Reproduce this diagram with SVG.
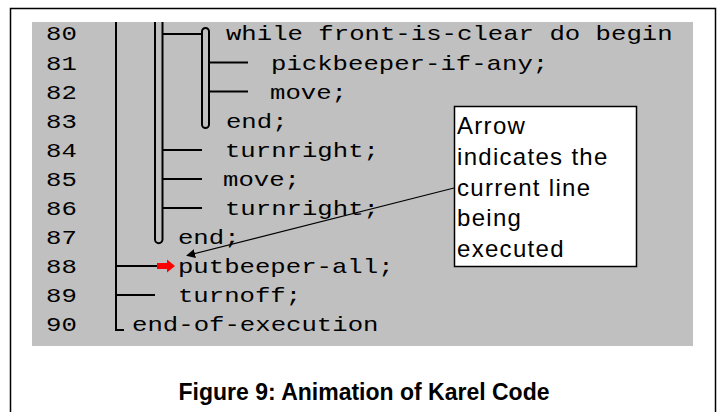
<svg xmlns="http://www.w3.org/2000/svg" width="719" height="412" viewBox="0 0 719 412">
  <style>
    .code { font-family: "Liberation Mono", "Courier New", monospace; font-size: 20.8px; fill: #000; }
    .tree { fill: none; stroke: #000; stroke-width: 2; }
    .note { font-family: "Liberation Sans", Arial, sans-serif; font-size: 24px; letter-spacing: 1.3px; fill: #000; }
    .caption { font-family: "Liberation Sans", Arial, sans-serif; font-size: 23px; font-weight: bold; fill: #000; }
  </style>
  <defs>
    <marker id="head" viewBox="0 0 10 10" refX="9" refY="5" markerWidth="9" markerHeight="9" markerUnits="userSpaceOnUse" orient="auto">
      <path d="M0,0 L10,5 L0,10 Z" fill="#000"/>
    </marker>
    <clipPath id="panelClip">
      <rect x="32" y="22" width="661" height="324"/>
    </clipPath>
  </defs>

  <rect x="0" y="0" width="719" height="412" fill="#fff"/>
  <!-- figure frame -->
  <rect x="10.5" y="8.5" width="705" height="420" fill="none" stroke="#000" stroke-width="1.5"/>

  <!-- code listing panel -->
  <g id="code-panel">
    <rect x="32" y="22" width="661" height="324" fill="#c0c0c0"/>
    <g clip-path="url(#panelClip)">
      <!-- structure lines -->
      <g id="tree">
        <path class="tree" d="M116,22 V330 H124"/>
        <path class="tree" d="M155,10 V239.5 A3.75,3.75 0 0 0 162.5,239.5 V10"/>
        <rect class="tree" x="202" y="28" width="7" height="100" rx="3.5"/>
        <path class="tree" d="M163,34 H202 M209,62.5 H248 M209,91.5 H248 M163,150 H202 M163,179 H202 M163,208 H202 M116,266 H157 M116,295 H155"/>
      </g>
      <!-- listing text, widened to the 15.4px character cell -->
      <g id="lines" class="code" transform="scale(1.234 1)">
        <text x="37.3" y="40.5">80</text>
        <text x="183.1" y="40.5">while front-is-clear do begin</text>
        <text x="37.3" y="69.6">81</text>
        <text x="219.6" y="69.6">pickbeeper-if-any;</text>
        <text x="37.3" y="98.7">82</text>
        <text x="218.8" y="98.7">move;</text>
        <text x="37.3" y="127.8">83</text>
        <text x="183.1" y="127.8">end;</text>
        <text x="37.3" y="156.9">84</text>
        <text x="182.3" y="156.9">turnright;</text>
        <text x="37.3" y="186">85</text>
        <text x="180.7" y="186">move;</text>
        <text x="37.3" y="215.1">86</text>
        <text x="182.3" y="215.1">turnright;</text>
        <text x="37.3" y="244.2">87</text>
        <text x="144.2" y="244.2">end;</text>
        <text x="37.3" y="273.3">88</text>
        <text x="144.2" y="273.3">putbeeper-all;</text>
        <text x="37.3" y="302.4">89</text>
        <text x="144.2" y="302.4">turnoff;</text>
        <text x="37.3" y="331.5">90</text>
        <text x="107" y="331.5">end-of-execution</text>
      </g>
    </g>
  </g>

  <!-- current-line marker -->
  <g id="current-line">
    <path d="M157,263 H167 V259.5 L175,266 L167,272.5 V269 H157 Z" fill="#ff0000"/>
  </g>

  <!-- callout -->
  <g id="callout">
    <rect x="454.5" y="106.5" width="182" height="160" fill="#fff" stroke="#000" stroke-width="1.5"/>
    <text class="note" x="457" y="134">Arrow</text>
    <text class="note" x="457" y="165">indicates the</text>
    <text class="note" x="457" y="196">current line</text>
    <text class="note" x="457" y="226">being</text>
    <text class="note" x="457" y="257">executed</text>
  </g>

  <g id="connectors">
    <line x1="454" y1="188" x2="187" y2="255.5" stroke="#000" stroke-width="1.2" marker-end="url(#head)"/>
  </g>

  <g id="caption">
    <text class="caption" x="364" y="400" text-anchor="middle">Figure 9: Animation of Karel Code</text>
  </g>
</svg>
